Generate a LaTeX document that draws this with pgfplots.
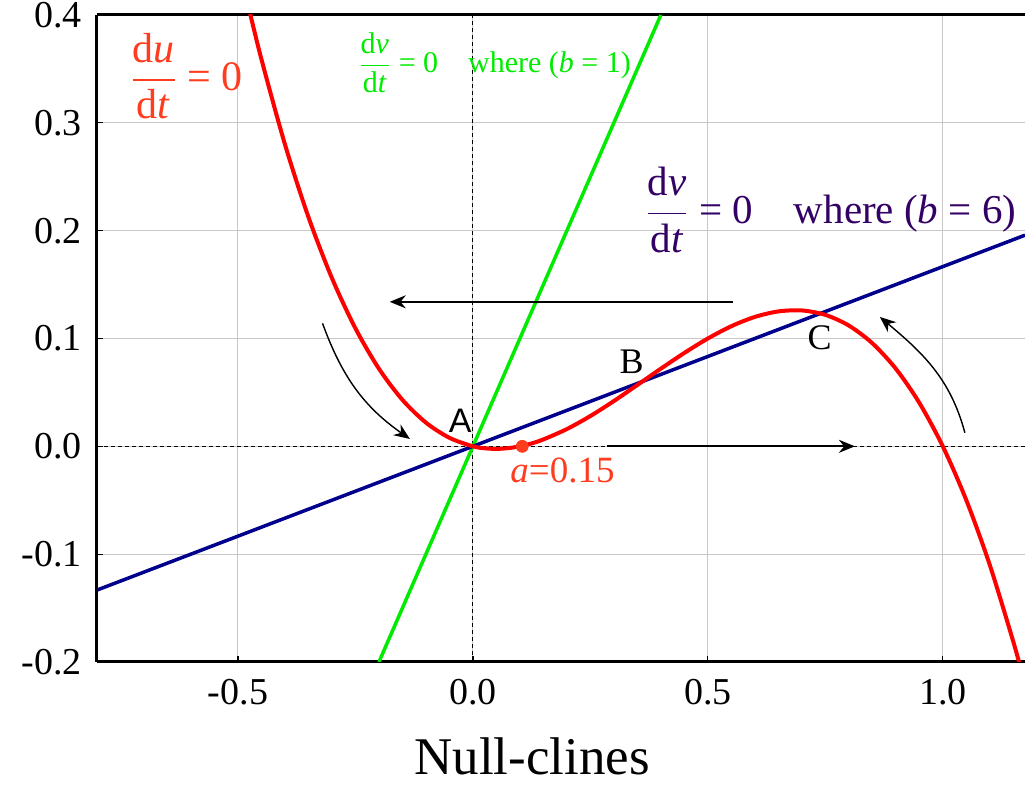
\documentclass[border=0pt]{standalone}
\usepackage{amsmath}
\usepackage{fontspec}
\setmainfont{Liberation Serif}
\newfontfamily\arialfont{Liberation Sans}
\usepackage{pgfplots}
\pgfplotsset{compat=1.18}
\usetikzlibrary{arrows.meta}
\definecolor{redcurve}{RGB}{255,0,0}
\definecolor{redtext}{RGB}{255,60,30}
\definecolor{greenline}{RGB}{0,235,0}
\definecolor{blueline}{RGB}{0,0,140}
\definecolor{purpletext}{RGB}{51,0,102}
\definecolor{gridgray}{RGB}{200,200,200}
\begin{document}
\begin{tikzpicture}
\begin{axis}[
  width=464pt, height=323.5pt, scale only axis,
  xmin=-0.8, xmax=1.175, ymin=-0.2, ymax=0.4,
  axis x line*=bottom, axis y line*=left,
  axis line style={line width=1.5pt},
  xtick={-0.5,0,0.5,1}, xticklabels={-0.5,0.0,0.5,1.0},
  ytick={-0.2,-0.1,0,0.1,0.2,0.3,0.4},
  yticklabels={-0.2,-0.1,0.0,0.1,0.2,0.3,0.4},
  tick align=inside, major tick length=3pt,
  tick style={black, line width=0.6pt},
  grid=major, major grid style={draw=gridgray, line width=0.5pt},
  ticklabel style={font=\fontsize{19}{21}\selectfont},
  yticklabel style={xshift=-4pt},
  xticklabel style={yshift=-5pt},
  clip mode=individual,
]
% dashed zero lines
\draw[black, line width=0.5pt, dash pattern=on 2pt off 1.5pt] (axis cs:0,-0.2) -- (axis cs:0,0.4);
\draw[black, line width=0.5pt, dash pattern=on 2pt off 1.5pt] (axis cs:-0.8,0) -- (axis cs:1.175,0);
% top frame line
\draw[black, line width=1.5pt] (rel axis cs:0,1) -- (rel axis cs:1,1);

% null-clines
\addplot[greenline, line width=1.75pt] coordinates {(-0.2,-0.2) (0.4,0.4)};
\addplot[blueline, line width=1.75pt] coordinates {(-0.8,-0.1333) (1.175,0.1958)};
\addplot[redcurve, line width=2pt, smooth] coordinates {
(-0.48,0.4120) (-0.45,0.3589) (-0.4,0.2800) (-0.35,0.2126) (-0.3,0.1560)
(-0.25,0.1094) (-0.2,0.0720) (-0.15,0.0431) (-0.1,0.0220) (-0.05,0.0079)
(0,0) (0.025,-0.0018) (0.05,-0.0024) (0.075,-0.0017) (0.1,0)
(0.125,0.0027) (0.15,0.0064) (0.2,0.0160) (0.25,0.0281) (0.3,0.0420)
(0.35,0.0569) (0.4,0.0720) (0.45,0.0866) (0.5,0.1000) (0.55,0.1114)
(0.6,0.1200) (0.65,0.1251) (0.7,0.1260) (0.75,0.1219) (0.8,0.1120)
(0.85,0.0956) (0.9,0.0720) (0.95,0.0404) (1.0,0) (1.05,-0.0499)
(1.1,-0.1100) (1.15,-0.1811) (1.17,-0.2128)};
\addplot[only marks, mark=*, mark size=3pt, color=redtext] coordinates {(0.105,0)};

% arrows
\draw[black, line width=0.9pt, -{Stealth[length=8pt,width=6.5pt]}] (axis cs:0.553,0.134) -- (axis cs:-0.177,0.134);
\draw[black, line width=0.9pt, -{Stealth[length=8pt,width=6.5pt]}] (axis cs:0.285,0) -- (axis cs:0.813,0);
\draw[black, line width=0.7pt, -{Stealth[length=8pt,width=6.5pt]}] (axis cs:-0.320,0.114) to[out=-70,in=145] (axis cs:-0.134,0.0068);
\draw[black, line width=0.7pt, -{Stealth[length=8pt,width=6.5pt]}] (axis cs:1.047,0.0126) to[out=105,in=-40] (axis cs:0.866,0.120);

% labels
\node[anchor=west, text=redtext, font=\fontsize{21}{23}\selectfont, inner sep=0pt] at (axis cs:-0.730,0.3435)
  {\(\dfrac{\mbox{d\textit{u}}}{\mbox{d\textit{t}}}\)~=~0};
\node[anchor=west, text=greenline, font=\fontsize{15}{17}\selectfont, inner sep=0pt] at (axis cs:-0.245,0.3556)
  {\(\dfrac{\mbox{d\textit{v}}}{\mbox{d\textit{t}}}\)~=~0\hspace{0.75em} where (\textit{b}~=~1)};
\node[anchor=west, text=purpletext, font=\fontsize{20.5}{23}\selectfont, inner sep=0pt] at (axis cs:0.366,0.219)
  {\(\dfrac{\mbox{d\textit{v}}}{\mbox{d\textit{t}}}\)~=~0\hspace{0.75em} where (\textit{b}~=~6)};
\node[anchor=west, text=redtext, font=\fontsize{18.5}{20}\selectfont, inner sep=0pt] at (axis cs:0.079,-0.022)
  {\textit{a}=0.15};
\node[font=\arialfont\fontsize{17}{19}\selectfont, inner sep=0pt] at (axis cs:-0.027,0.024) {A};
\node[font=\fontsize{18}{20}\selectfont, inner sep=0pt] at (axis cs:0.338,0.078) {B};
\node[font=\fontsize{18}{20}\selectfont, inner sep=0pt] at (axis cs:0.738,0.101) {C};
\node[font=\fontsize{26.5}{28}\selectfont, inner sep=0pt] at ([xshift=-14.5pt,yshift=-47pt]rel axis cs:0.5,0) {Null-clines};

\coordinate (LL) at (rel axis cs:0,0);
\coordinate (UR) at (rel axis cs:1,1);
\end{axis}
\pgfresetboundingbox
\path ([xshift=-48.5pt,yshift=-62pt]LL) rectangle ([yshift=7.5pt]UR);
\end{tikzpicture}
\end{document}
